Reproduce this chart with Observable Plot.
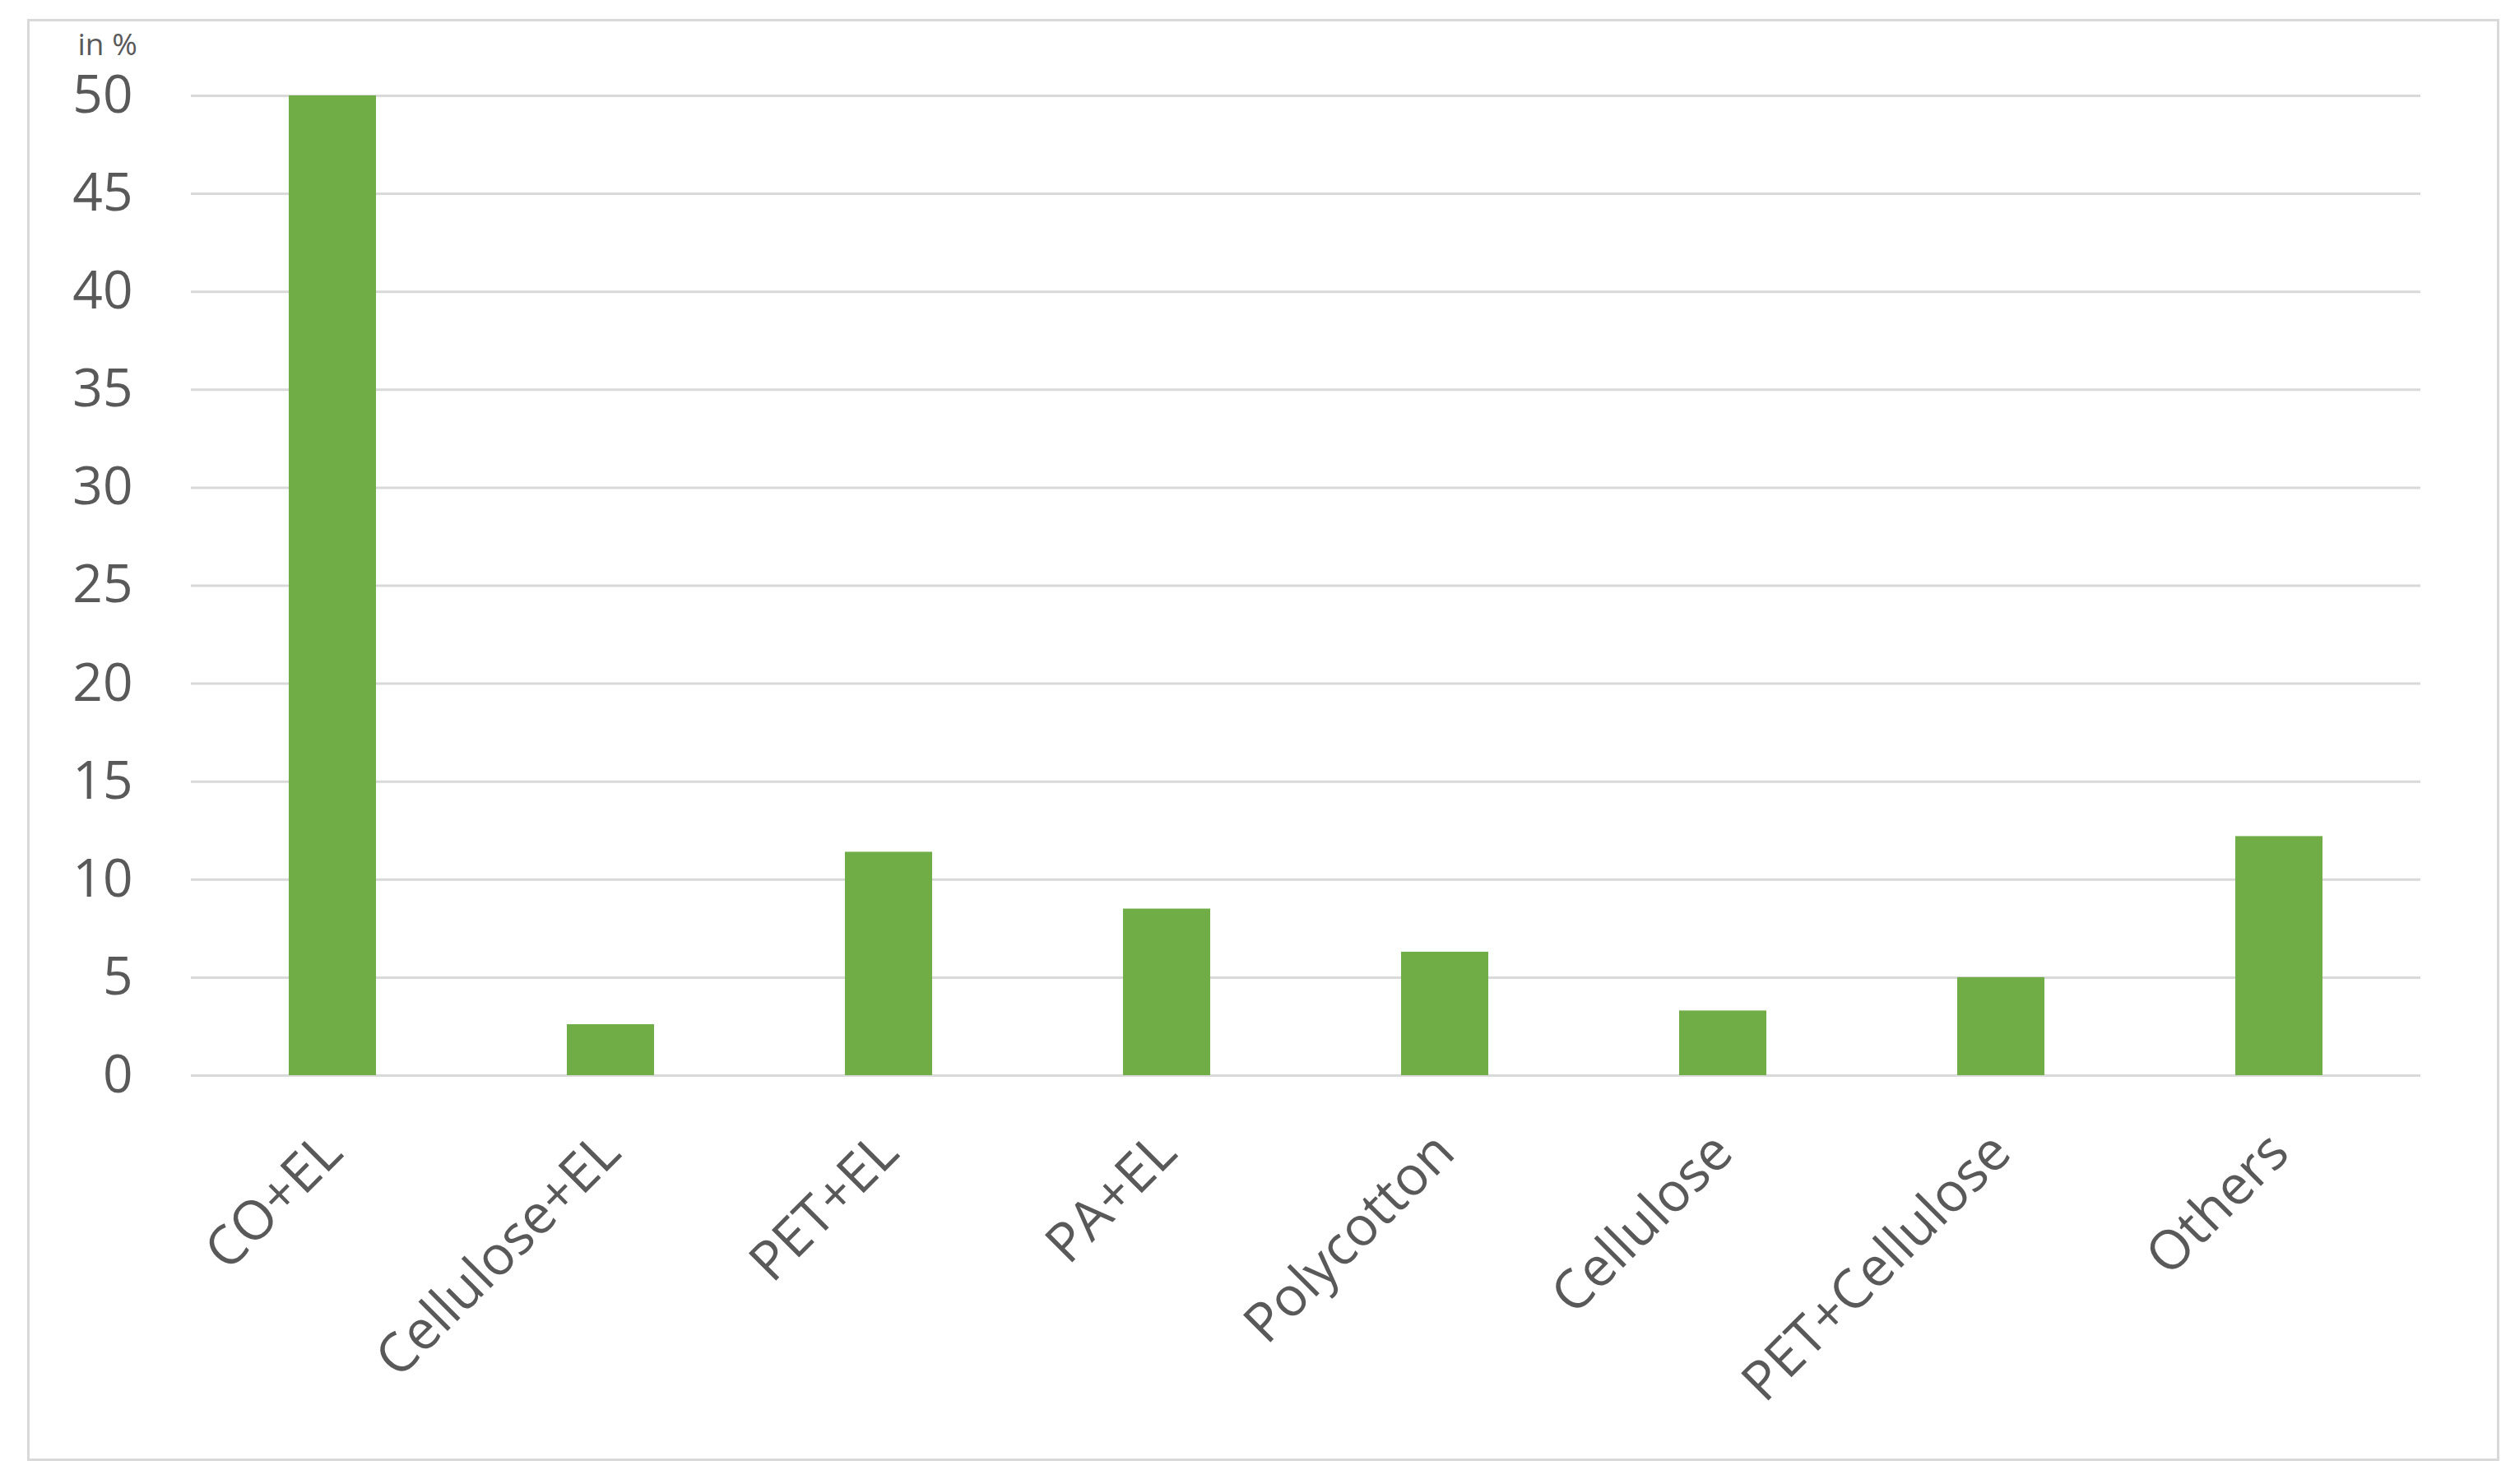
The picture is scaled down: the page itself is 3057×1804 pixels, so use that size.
<!DOCTYPE html>
<html>
<head>
<meta charset="utf-8">
<script src="https://cdn.jsdelivr.net/npm/d3@7"></script>
<script src="https://cdn.jsdelivr.net/npm/@observablehq/plot@0.6"></script>
<style>
  html, body { margin: 0; padding: 0; background: #ffffff; }
  #wrap { position: relative; width: 3057px; height: 1804px; background: #ffffff; overflow: hidden; }
  #frame { position: absolute; left: 33px; top: 23px; width: 2999px; height: 1747px; border: 3px solid #d9d9d9; box-sizing: content-box; }
  #chart { position: absolute; left: 0; top: 0; }
</style>
</head>
<body>
<div id="wrap">
  <div id="frame"></div>
  <div id="chart"></div>
</div>
<script>
const categories = ["CO+EL", "Cellulose+EL", "PET+EL", "PA+EL", "Polycotton", "Cellulose", "PET+Cellulose", "Others"];
const shares = [50, 2.6, 11.4, 8.5, 6.3, 3.3, 5.0, 12.2];
const yTicks = [0, 5, 10, 15, 20, 25, 30, 35, 40, 45, 50];
const unitLabel = "in %";

const data = categories.map((c, i) => ({category: c, share: shares[i]}));

const chart = Plot.plot({
  width: 3057,
  height: 1804,
  marginLeft: 232,
  marginRight: 115,
  marginTop: 116,
  marginBottom: 497,
  style: {fontFamily: "'Open Sans', 'Noto Sans', sans-serif", fontSize: "64px", color: "#595959", background: "transparent"},
  x: {domain: categories, paddingInner: 0.687, paddingOuter: 0.3435, label: null},
  y: {domain: [0, 50], label: null},
  marks: [
    Plot.ruleY(yTicks, {stroke: "#d9d9d9", strokeWidth: 3}),
    Plot.barY(data, {x: "category", y: "share", fill: "#70ad47"}),
    Plot.axisY({ticks: yTicks, tickSize: 0, tickPadding: 71, label: null, fontSize: 64}),
    Plot.axisX({tickSize: 0, tickRotate: -45, tickPadding: 82, label: null, fontSize: 66}),
    Plot.text([unitLabel], {frameAnchor: "top-left", dx: -138, dy: -50, textAnchor: "start", lineAnchor: "bottom", fontSize: 37, fill: "#595959"})
  ]
});
document.getElementById("chart").appendChild(chart);
</script>
</body>
</html>
